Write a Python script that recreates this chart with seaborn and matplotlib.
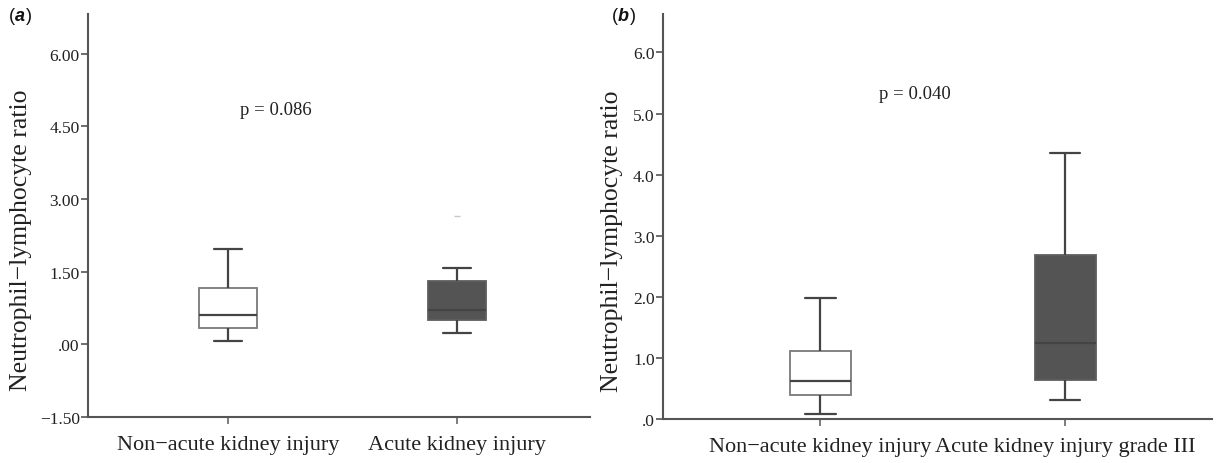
import numpy as np
import pandas as pd
import matplotlib
matplotlib.use("Agg")
import matplotlib.pyplot as plt
import seaborn as sns

# ---- data (five-number summaries: min, q1, median, q3, max) ----
cats_a = ["Non\u2212acute kidney injury", "Acute kidney injury"]
a_non_aki = [0.07, 0.34, 0.61, 1.16, 1.97]
a_aki = [0.24, 0.50, 0.71, 1.31, 1.58]
a_outlier = [2.64]
p_a = "p = 0.086"

cats_b = ["Non\u2212acute kidney injury", "Acute kidney injury grade III"]
b_non_aki = [0.08, 0.40, 0.62, 1.12, 1.98]
b_aki3 = [0.31, 0.64, 1.25, 2.68, 4.36]
p_b = "p = 0.040"

yticks_a = [-1.5, 0.0, 1.5, 3.0, 4.5, 6.0]
yticklabels_a = ["\u22121.50", ".00", "1.50", "3.00", "4.50", "6.00"]
yticks_b = [0, 1, 2, 3, 4, 5, 6]
yticklabels_b = [".0", "1.0", "2.0", "3.0", "4.0", "5.0", "6.0"]
ylabel = "Neutrophil\u2212lymphocyte ratio"

sns.set_theme(style="white")
plt.rcParams["font.family"] = ["Liberation Serif", "DejaVu Serif"]

fig = plt.figure(figsize=(12.18, 4.64), dpi=100)
ax_a = fig.add_axes([88 / 1218, 46 / 464, (590 - 88) / 1218, (418 - 15) / 464])
ax_b = fig.add_axes([663 / 1218, 44 / 464, (1212 - 663) / 1218, (420 - 15) / 464])

SPINE = "#555555"
LINE = "#444444"
DARK = "#545454"


def draw_panel(ax, cats, v1, v2, yticks, yticklabels, ylim, xlim, ptext, pxy,
               label_xy, outlier=None):
    df = pd.DataFrame({
        "group": [cats[0]] * len(v1) + [cats[1]] * len(v2),
        "value": list(v1) + list(v2),
    })
    sns.boxplot(data=df, x="group", y="value", hue="group", order=cats, hue_order=cats,
                palette={cats[0]: "white", cats[1]: DARK}, legend=False,
                whis=(0, 100), width=0.25, linecolor=LINE, linewidth=1.6,
                showfliers=False, ax=ax)
    # lighter box edges
    for i, patch in enumerate(ax.patches):
        patch.set_edgecolor("#7a7a7a" if i == 0 else "#5e5e5e")
        patch.set_linewidth(1.3)
    if outlier is not None:
        odf = pd.DataFrame({"group": [cats[1]] * len(outlier), "value": outlier})
        sns.stripplot(data=odf, x="group", y="value", order=cats, jitter=False,
                      marker="_", size=4, color="#c8c8c8", linewidth=1.0, ax=ax)
    ax.set_ylim(*ylim)
    ax.set_xlim(*xlim)
    ax.set_yticks(yticks)
    ax.set_yticklabels(yticklabels)
    ax.set_xlabel("")
    ax.set_ylabel(ylabel, fontsize=18.5, color="#222222")
    ax.yaxis.set_label_coords(*label_xy)
    for s in ["top", "right"]:
        ax.spines[s].set_visible(False)
    for s in ["left", "bottom"]:
        ax.spines[s].set_color(SPINE)
        ax.spines[s].set_linewidth(1.5)
    ax.tick_params(axis="y", which="both", left=True, length=5, width=1.2,
                   color=SPINE, labelsize=12.5, pad=1, labelcolor="#222222")
    ax.tick_params(axis="x", which="both", bottom=True, length=5, width=1.2,
                   color="#666666", labelsize=16, pad=8, labelcolor="#222222")
    ax.text(pxy[0], pxy[1], ptext, ha="center", va="center", fontsize=13.5,
            color="#222222")


draw_panel(ax_a, cats_a, a_non_aki, a_aki, yticks_a, yticklabels_a,
           (-1.5, 6.82), (-0.611, 1.58), p_a, (0.21, 4.85), (-0.112, 0.44),
           outlier=a_outlier)
draw_panel(ax_b, cats_b, b_non_aki, b_aki3, yticks_b, yticklabels_b,
           (0.0, 6.63), (-0.643, 1.60), p_b, (0.385, 5.33), (-0.073, 0.442))

# panel letters "(a)" / "(b)" with bold italic letter
fig.canvas.draw()
renderer = fig.canvas.get_renderer()


def panel_label(x_px, y_px, letter):
    kw = dict(fontsize=13, family=["Liberation Sans", "DejaVu Sans"], va="top", color="#111111")
    t1 = fig.text(x_px / 1218, 1 - y_px / 464, "(", **kw)
    fig.canvas.draw()
    bb = t1.get_window_extent(renderer)
    t2 = fig.text(bb.x1 / 1218, 1 - y_px / 464, letter, fontweight="bold", style="italic", **kw)
    fig.canvas.draw()
    bb2 = t2.get_window_extent(renderer)
    fig.text(bb2.x1 / 1218 + 1 / 1218, 1 - y_px / 464, ")", **kw)


panel_label(9, 8, "a")
panel_label(612, 8, "b")

fig.savefig("out.png", dpi=100)
